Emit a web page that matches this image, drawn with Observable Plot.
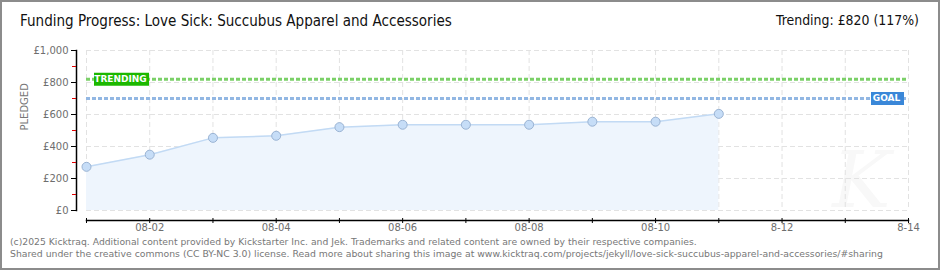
<!DOCTYPE html>
<html>
<head>
<meta charset="utf-8">
<script src="https://cdn.jsdelivr.net/npm/d3@7"></script>
<script src="https://cdn.jsdelivr.net/npm/@observablehq/plot@0.6"></script>
<style>
  html, body { margin: 0; padding: 0; background: #fff; }
  #wrap { position: relative; width: 940px; height: 270px; overflow: hidden; background: #fff; }
  #border { position: absolute; left: 0; top: 0; width: 940px; height: 270px; box-sizing: border-box; border: 2px solid #8c8c8c; pointer-events: none; }
  #chart { position: absolute; left: 0; top: 0; }
  .t { position: absolute; white-space: nowrap; line-height: 1; }
  #title { left: 20px; top: 14px; font-family: "DejaVu Sans Condensed", "DejaVu Sans"; font-size: 15px; color: #111; }
  #trend { right: 21px; top: 14px; font-family: "DejaVu Sans Condensed", "DejaVu Sans"; font-size: 15px; color: #111; }
  .foot { left: 10px; font-family: "DejaVu Sans"; font-size: 9px; color: #777; }
  #f1 { top: 237px; }
  #f2 { top: 249px; }
</style>
</head>
<body>
<div id="wrap">
  <div id="chart"></div>
  <div class="t" id="title" data-w="432">Funding Progress: Love Sick: Succubus Apparel and Accessories</div>
  <div class="t" id="trend" data-w="143">Trending: £820 (117%)</div>
  <div class="t foot" id="f1" data-w="687">(c)2025 Kicktraq. Additional content provided by Kickstarter Inc. and Jek. Trademarks and related content are owned by their respective companies.</div>
  <div class="t foot" id="f2" data-w="875">Shared under the creative commons (CC BY-NC 3.0) license. Read more about sharing this image at www.kicktraq.com/projects/jekyll/love-sick-succubus-apparel-and-accessories/#sharing</div>
  <div id="border"></div>
</div>
<script>
// ---- data ----
const dates = ["2025-08-01","2025-08-02","2025-08-03","2025-08-04","2025-08-05","2025-08-06","2025-08-07","2025-08-08","2025-08-09","2025-08-10","2025-08-11"];
const pledged = [273, 349, 454, 467, 521, 536, 536, 536, 555, 555, 604];
const goal = 700;
const trending = 820;
const dayTicks = ["2025-08-01","2025-08-02","2025-08-03","2025-08-04","2025-08-05","2025-08-06","2025-08-07","2025-08-08","2025-08-09","2025-08-10","2025-08-11","2025-08-12","2025-08-13","2025-08-14"];
const labelDates = ["2025-08-02","2025-08-04","2025-08-06","2025-08-08","2025-08-10","2025-08-12","2025-08-14"];
const labelTexts = ["08-02","08-04","08-06","08-08","08-10","8-12","8-14"];
const yTicks = [0, 200, 400, 600, 800, 1000];
const yLabels = ["£0","£200","£400","£600","£800","£1,000"];
const yMinor = [100, 300, 500, 700, 900];

const P = d => new Date(d + "T00:00:00Z");
const data = dates.map((d, i) => ({date: P(d), value: pledged[i]}));
const dayT = dayTicks.map(P);
const labT = labelDates.map(P);
const labMap = new Map(labT.map((d, i) => [+d, labelTexts[i]]));
const yMap = new Map(yTicks.map((v, i) => [v, yLabels[i]]));

const boxSymbol = (w, h) => ({draw(ctx) { ctx.rect(-w / 2, -h / 2, w, h); }});

const grid = {stroke: "#e2e2e2", strokeDasharray: "5,3", strokeWidth: 1};
const tickFont = {fontSize: 10, fontFamily: "DejaVu Sans", fill: "#6e6e6e"};

const chart = Plot.plot({
  width: 940,
  height: 270,
  marginLeft: 86,
  marginRight: 32,
  marginTop: 50,
  marginBottom: 60,
  x: {type: "utc", domain: [dayT[0], dayT[dayT.length - 1]], label: null},
  y: {domain: [0, 1000], label: null},
  style: {background: "transparent", overflow: "visible"},
  marks: [
    Plot.text(["K"], {frameAnchor: "bottom-right", dx: -18, dy: -4, fontSize: 78, fontStyle: "italic", fontFamily: "DejaVu Serif", fill: "#f8f8f8"}),
    Plot.ruleX(dayT, grid),
    Plot.ruleY(yTicks, grid),
    Plot.areaY(data, {x: "date", y: "value", fill: "#eef5fd"}),
    Plot.lineY(data, {x: "date", y: "value", stroke: "#c2daf4", strokeWidth: 1.5}),
    Plot.ruleY([trending], {stroke: "#7bd068", strokeWidth: 3, strokeDasharray: "4,2"}),
    Plot.ruleY([goal], {stroke: "#92b7e3", strokeWidth: 3, strokeDasharray: "4,2"}),
    Plot.dot(data, {x: "date", y: "value", r: 4.5, fill: "#c6ddf7", stroke: "#9ab3d3", strokeWidth: 1}),
    Plot.frame({anchor: "left", dx: -10, stroke: "#000", strokeWidth: 1.5}),
    Plot.frame({anchor: "bottom", dy: 10, stroke: "#000", strokeWidth: 1.5}),
    Plot.axisY({ticks: yMinor, tickFormat: () => "", label: null, tickSize: 4, dx: -10, stroke: "#e00000"}),
    Plot.axisY({ticks: yTicks, tickFormat: v => yMap.get(v), label: null, tickSize: 5, tickPadding: 3, dx: -10, stroke: "#000", ...tickFont}),
    Plot.axisX({ticks: dayT, tickFormat: () => "", label: null, tickSize: 5, dy: 8, stroke: "#000"}),
    Plot.axisX({ticks: labT, tickFormat: d => labMap.get(+d), label: null, tickSize: 0, tickPadding: 3, dy: 10, ...tickFont}),
    Plot.dot([{date: dayT[0], value: trending}], {x: "date", y: "value", dx: 35, symbol: boxSymbol(55, 13), fill: "#1cb800", stroke: "none"}),
    Plot.text([{date: dayT[0], value: trending}], {x: "date", y: "value", dx: 34, text: () => "TRENDING", fill: "#fff", fontSize: 9, fontWeight: "bold", fontFamily: "DejaVu Sans", letterSpacing: "0.3px"}),
    Plot.dot([{date: dayT[dayT.length - 1], value: goal}], {x: "date", y: "value", dx: -21, symbol: boxSymbol(33, 13), fill: "#3a87d8", stroke: "none"}),
    Plot.text([{date: dayT[dayT.length - 1], value: goal}], {x: "date", y: "value", dx: -22, text: () => "GOAL", fill: "#fff", fontSize: 9, fontWeight: "bold", fontFamily: "DejaVu Sans", letterSpacing: "0.3px"}),
    Plot.text(["PLEDGED"], {frameAnchor: "left", rotate: -90, dx: -62, fontSize: 10, fontFamily: "DejaVu Sans", fill: "#777", letterSpacing: "2px"})
  ]
});
document.getElementById("chart").appendChild(chart);

// fit text widths
document.querySelectorAll("[data-w]").forEach(el => {
  const target = +el.dataset.w;
  const fs = parseFloat(getComputedStyle(el).fontSize);
  const w = el.getBoundingClientRect().width;
  el.style.fontSize = (fs * target / w) + "px";
});
</script>
</body>
</html>
